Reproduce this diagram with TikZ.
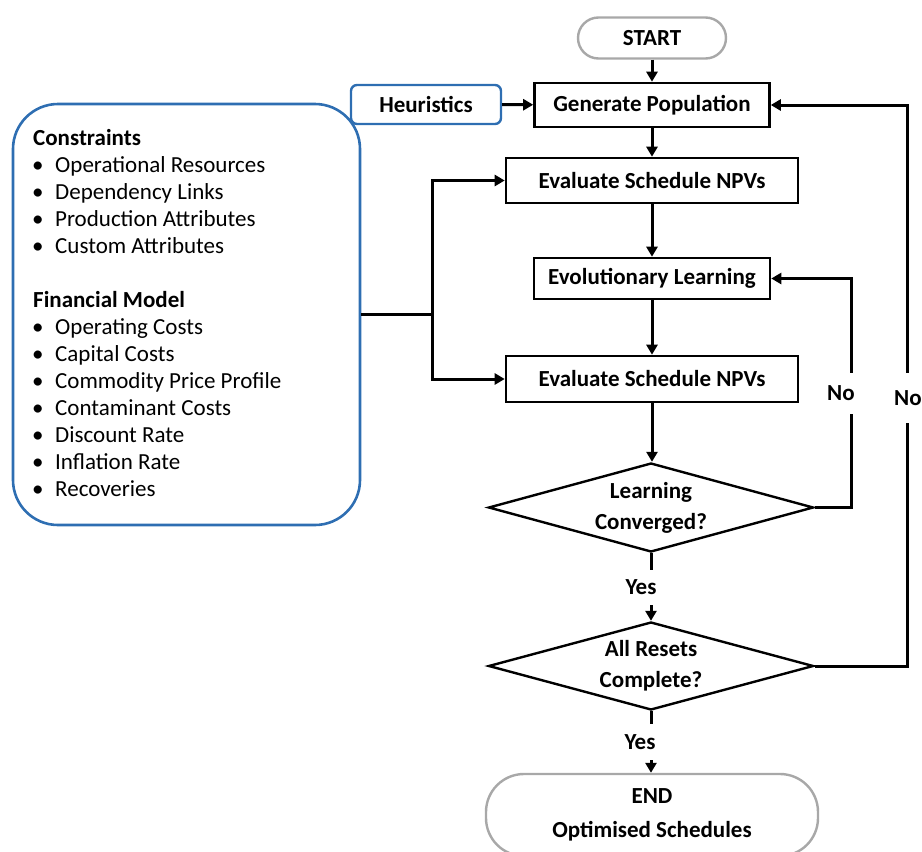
\documentclass[tikz,border=0pt]{standalone}
\usepackage{fontspec}
\setmainfont{Carlito}
\usetikzlibrary{shapes.geometric,arrows.meta}
\definecolor{panelblue}{RGB}{46,110,178}
\definecolor{termgray}{RGB}{168,168,168}
\begin{document}
\begin{tikzpicture}[x=1pt,y=-1pt,
  every node/.style={font=\fontsize{23}{27}\selectfont, inner sep=0pt},
  boldtext/.style={font=\fontsize{23}{27}\selectfont\bfseries},
  procbox/.style={draw=black, line width=2.6pt, fill=white, boldtext},
  terminal/.style={draw=termgray, line width=2.4pt, fill=white, align=center,
                   font=\fontsize{23}{34}\selectfont\bfseries},
  decision/.style={diamond, draw=black, line width=2.4pt, fill=white, align=center,
                   shape aspect=3.65, minimum width=325pt, minimum height=89pt,
                   font=\fontsize{23}{31}\selectfont\bfseries},
  panel/.style={draw=panelblue, line width=2.6pt, rounded corners=45pt,
                minimum width=347pt, minimum height=421pt},
  link/.style={line width=3pt},
  arr/.style={line width=3pt, -{Triangle[length=10pt,width=11pt]}},
  tag/.style={fill=white, boldtext, inner xsep=1pt},
]
\useasboundingbox (0,0) rectangle (922,852);
\clip (0,0) rectangle (922,852);

% --- main flow ---
\node[terminal, rounded corners=20.5pt, minimum width=148pt, minimum height=41pt]
  (start) at (652,38) {START};
\node[procbox, minimum width=235pt, minimum height=44pt] (gen) at (652,105) {Generate Population};
\node[draw=panelblue, line width=2.4pt, rounded corners=6pt, boldtext,
      minimum width=150pt, minimum height=39pt] (heur) at (426,104.5) {Heuristics};
\node[procbox, minimum width=292pt, minimum height=45pt] (eval1) at (652,180.5) {Evaluate Schedule NPVs};
\node[procbox, minimum width=236pt, minimum height=41pt] (evo) at (652,278.5) {Evolutionary Learning};
\node[procbox, minimum width=292pt, minimum height=46pt] (eval2) at (652,379) {Evaluate Schedule NPVs};
\node[decision] (conv) at (651,507.5) {Learning\\Converged?};
\node[decision, minimum height=88pt] (resets) at (651,666) {All Resets\\Complete?};
\node[terminal, rounded corners=38pt, minimum width=332pt, minimum height=82pt]
  (finish) at (652,815) {END\\Optimised Schedules};

% --- input panel ---
\node[panel] (inputs) at (186.5,314.5) {};
\node[boldtext, anchor=base west] (hcons) at (33,145) {Constraints};
\foreach \t [count=\i] in {Operational Resources, Dependency Links,
                           Production Attributes, Custom Attributes} {
  \node[anchor=base west] (cb\i) at (32,145+27*\i) {\textbullet};
  \node[anchor=base west] (ci\i) at (55,145+27*\i) {\t};
}
\node[boldtext, anchor=base west] (hfin) at (33,307) {Financial Model};
\foreach \t [count=\i] in {Operating Costs, Capital Costs, Commodity Price Profile,
                           Contaminant Costs, Discount Rate, Inflation Rate, Recoveries} {
  \node[anchor=base west] (fb\i) at (32,307+27*\i) {\textbullet};
  \node[anchor=base west] (fi\i) at (55,307+27*\i) {\t};
}

% --- connectors ---
\coordinate (split) at (432,314.5);
\coordinate (innercol) at (851,0);
\coordinate (outercol) at (907,0);

\draw[arr] (start) -- (gen);
\draw[arr] (heur) -- (gen);
\draw[arr] (gen) -- (eval1);
\draw[link] (inputs.east) -- (split);
\draw[arr] (split) |- (eval1.west);
\draw[arr] (split) |- (eval2.west);
\draw[arr] (eval1) -- (evo);
\draw[arr] (evo) -- (eval2);
\draw[arr] (eval2.south) -- (eval2.south |- conv.north);
\draw[arr] (conv.south) -- node[tag, xshift=-10pt, minimum height=35pt] (yes1) {Yes} (resets.north);
\draw[arr] (resets.south) -- node[tag, xshift=-11pt, minimum height=36pt] (yes2) {Yes} (resets.south |- finish.north);

\draw[arr] (conv.east) -- (conv.east -| innercol)
  -- node[tag, pos=0.5, xshift=-10pt, minimum height=41pt] (no1) {No} (evo.east -| innercol)
  -- (evo.east);
\draw[arr] (resets.east) -- (resets.east -| outercol)
  -- node[tag, pos=0.478, xshift=1pt, minimum height=50pt] (no2) {No} (gen.east -| outercol)
  -- (gen.east);
\end{tikzpicture}
\end{document}
